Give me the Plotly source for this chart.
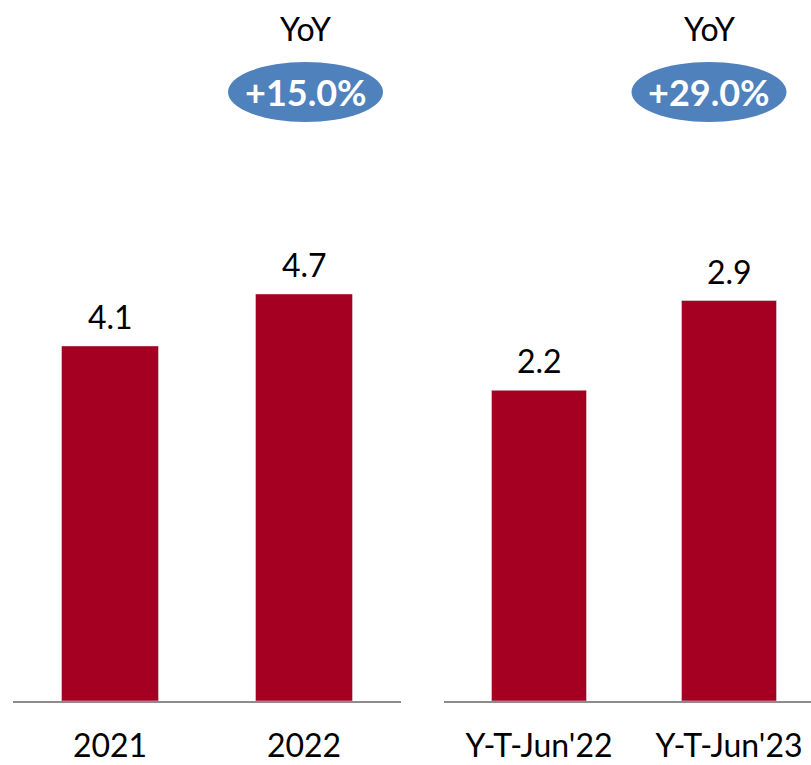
import plotly.graph_objects as go
from plotly.subplots import make_subplots

# annual totals
years = ["2021", "2022"]
year_values = [4.1, 4.7]
year_labels = ["4.1", "4.7"]

# year-to-date (June)
ytd = ["Y-T-Jun'22", "Y-T-Jun'23"]
ytd_values = [2.25, 2.9]
ytd_labels = ["2.2", "2.9"]

yoy_labels = ["+15.0%", "+29.0%"]

W, H = 811, 765
bar_color = "#A50021"
blue = "#4F81BD"
font = "Lato"

fig = make_subplots(rows=1, cols=2)

fig.add_trace(go.Bar(x=years, y=year_values, marker_color=bar_color, width=0.5,
                     hoverinfo="skip"), row=1, col=1)
fig.add_trace(go.Bar(x=ytd, y=ytd_values, marker_color=bar_color, width=0.5,
                     hoverinfo="skip"), row=1, col=2)

axis_style = dict(type="category", showgrid=False, zeroline=False, showline=True,
                  linecolor="#8C8C8C", linewidth=2, ticks="", automargin=False,
                  tickfont=dict(family=font, size=32, color="black"),
                  ticklabelstandoff=16)
fig.update_xaxes(axis_style)
fig.update_xaxes(domain=[13 / W, 401 / W], range=[-0.5, 1.5], row=1, col=1)
fig.update_xaxes(domain=[444 / W, 1.0], range=[-0.5, -0.5 + 367 / 190], row=1, col=2)

fig.update_yaxes(visible=False, showgrid=False, zeroline=False, automargin=False)
fig.update_yaxes(range=[0, 701 / 86.6], row=1, col=1)
fig.update_yaxes(range=[0, 701 / 138.1], row=1, col=2)

# value labels above bars
for vals, labs, xr, yr in [(year_values, year_labels, "x", "y"),
                           (ytd_values, ytd_labels, "x2", "y2")]:
    for i, (v, t) in enumerate(zip(vals, labs)):
        fig.add_annotation(x=i, y=v, xref=xr, yref=yr, text=t, showarrow=False,
                           xanchor="center", yanchor="bottom", yshift=8,
                           font=dict(family=font, size=32, color="black"))

# YoY badges
plot_h = H - 64
def py(p):
    return (plot_h - p) / plot_h

for cx, lab in zip([305.5, 709], yoy_labels):
    fig.add_annotation(x=cx / W, y=py(28), xref="paper", yref="paper", text="YoY",
                       showarrow=False, xanchor="center", yanchor="middle",
                       font=dict(family=font, size=32, color="black"))
    fig.add_shape(type="circle", xref="paper", yref="paper",
                  x0=(cx - 77.5) / W, x1=(cx + 77.5) / W, y0=py(122), y1=py(62),
                  fillcolor=blue, line=dict(width=0), layer="below")
    fig.add_annotation(x=cx / W, y=py(92), xref="paper", yref="paper",
                       text="<b>" + lab + "</b>", showarrow=False,
                       xanchor="center", yanchor="middle",
                       font=dict(family=font, size=36, color="white"))

fig.update_layout(width=W, height=H, margin=dict(l=0, r=0, t=0, b=64),
                  paper_bgcolor="white", plot_bgcolor="white", showlegend=False,
                  bargap=0.5)

fig.write_html("out.html", config={"displayModeBar": False},
               post_script="document.body.style.margin='0';")
